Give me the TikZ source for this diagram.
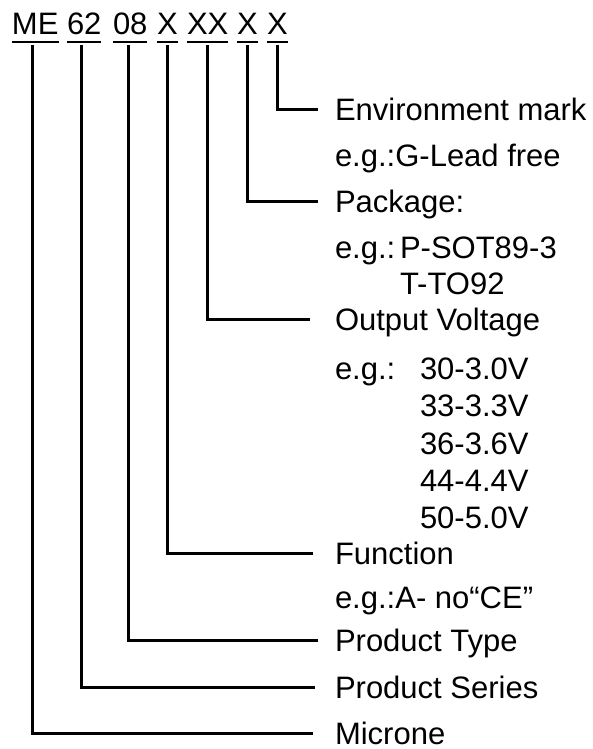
\documentclass[tikz,border=0pt]{standalone}
\usepackage{fontspec}
\setmainfont{Liberation Sans}
\begin{document}
\begin{tikzpicture}[x=1pt,y=-1pt,
  seg/.style={anchor=base west, inner sep=0pt, outer sep=0pt, font=\fontsize{31}{31}\selectfont},
  lbl/.style={anchor=west, inner sep=0pt, outer sep=0pt, text height=22pt, text depth=0pt, font=\fontsize{31}{31}\selectfont},
  conn/.style={line width=3pt, line join=miter},
  uline/.style={line width=2pt}]
\useasboundingbox (0,0) rectangle (592,749);
% code segments
\node[seg] (me)  at (12,35)  {ME};
\node[seg] (s62) at (67,35)  {62};
\node[seg] (s08) at (113,35) {08};
\node[seg] (xa)  at (157,35) {X};
\node[seg] (xx)  at (187,35) {XX};
\node[seg] (xb)  at (237,35) {X};
\node[seg] (xc)  at (267,35) {X};
\foreach \n in {me,s62,s08,xa,xx,xb,xc}
  \draw[uline] ([yshift=-7pt]\n.south west) -- ([yshift=-7pt]\n.south east);
% labels
\node[lbl] (env)  at (335,110) {Environment mark};
\node[lbl] (enveg) at (335,155) {e.g.:G-Lead free};
\node[lbl] (pkg)  at (335,201) {Package:};
\node[lbl] (pkgeg) at (335,247) {e.g.:};
\node[lbl] (p1)   at (400,247) {P-SOT89-3};
\node[lbl] (p2)   at (400,283) {T-TO92};
\node[lbl] (ov)   at (335,319) {Output Voltage};
\node[lbl] (oveg) at (335,368) {e.g.:};
\node[lbl] (v1)   at (420,368) {30-3.0V};
\node[lbl] (v2)   at (420,405) {33-3.3V};
\node[lbl] (v3)   at (420,443) {36-3.6V};
\node[lbl] (v4)   at (420,480) {44-4.4V};
\node[lbl] (v5)   at (420,517) {50-5.0V};
\node[lbl] (fn)   at (335,553) {Function};
\node[lbl] (fneg) at (335,597) {e.g.:A- no“CE”};
\node[lbl] (pt)   at (335,640) {Product Type};
\node[lbl] (ps)   at (335,687) {Product Series};
\node[lbl] (mic)  at (335,733) {Microne};
% connectors
\draw[conn] ([yshift=-10pt]xc.south)  |- ([xshift=-17pt]env.west);
\draw[conn] ([yshift=-10pt]xb.south)  |- ([xshift=-17pt]pkg.west);
\draw[conn] ([yshift=-10pt]xx.south)  |- ([xshift=-25pt]ov.west);
\draw[conn] ([yshift=-10pt]xa.south)  |- ([xshift=-22pt]fn.west);
\draw[conn] ([yshift=-10pt,xshift=-2pt]s08.south) |- ([xshift=-17pt]pt.west);
\draw[conn] ([yshift=-10pt,xshift=-3pt]s62.south) |- ([xshift=-20pt]ps.west);
\draw[conn] ([yshift=-10pt,xshift=-3pt]me.south)  |- ([xshift=-22pt]mic.west);
\end{tikzpicture}
\end{document}
